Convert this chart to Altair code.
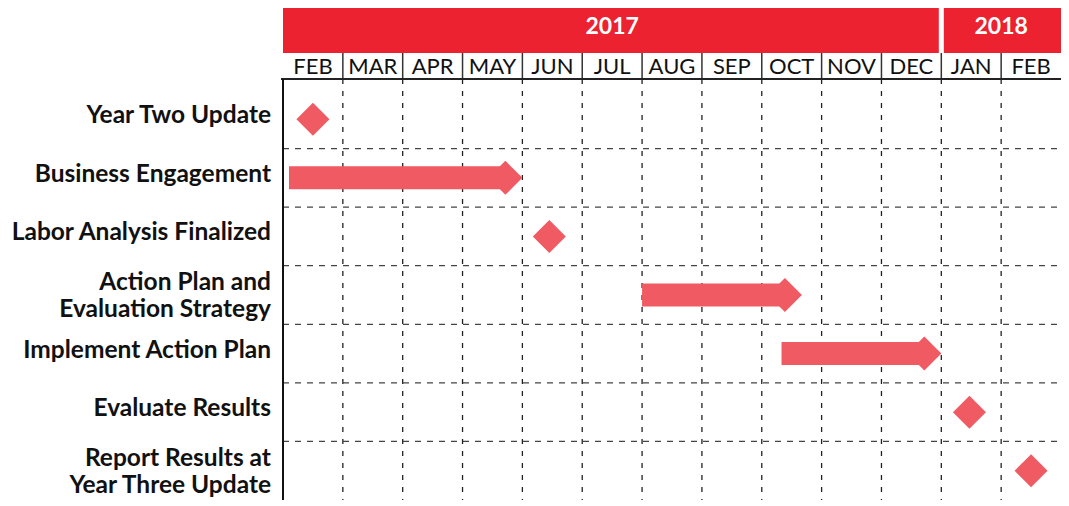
import altair as alt
import pandas as pd

# ---- data ----
months = ["FEB", "MAR", "APR", "MAY", "JUN", "JUL", "AUG", "SEP", "OCT", "NOV", "DEC", "JAN", "FEB"]
years = ["2017", "2018"]
year_start = [0, 11]   # month index where the year band starts
year_end = [11, 13]    # month index where the year band ends

tasks = [
    "Year Two Update",
    "Business Engagement",
    "Labor Analysis Finalized",
    "Action Plan and\nEvaluation Strategy",
    "Implement Action Plan",
    "Evaluate Results",
    "Report Results at\nYear Three Update",
]
kinds = ["milestone", "task", "milestone", "task", "task", "milestone", "milestone"]
starts = [None, 0.1, None, 6.0, 8.33, None, None]   # in months from start of Feb 2017
ends = [0.5, 4.0, 4.45, 8.67, 11.0, 11.47, 12.5]

HEADER_RED = "#EC2230"
MARK_RED = "#F05A62"
FONT = "Lato"
W, H = 778, 492
N_M = len(months)
N_R = len(tasks)

xs = alt.Scale(domain=[0, N_M], nice=False, zero=False)
ys = alt.Scale(domain=[0, N_R], range=[82, H], nice=False, zero=False)

month_df = pd.DataFrame({"m": months, "i": list(range(N_M))})
month_df["c"] = month_df["i"] + 0.5
bound_df = pd.DataFrame({"b": list(range(1, N_M))})
year_df = pd.DataFrame({"year": years, "s": year_start, "e": year_end})
task_df = pd.DataFrame({"task": tasks, "kind": kinds, "start": starts, "end": ends})
task_df["row"] = list(range(N_R))
task_df["yc"] = task_df["row"] + 0.5
rowb_df = pd.DataFrame({"r": list(range(1, N_R))})
one = pd.DataFrame({"k": [0]})

# year bands
year_band = alt.Chart(year_df).mark_rect(color=HEADER_RED).encode(
    x=alt.X("s:Q", scale=xs, axis=None), x2="e:Q",
    y=alt.value(0), y2=alt.value(45),
)
year_gap = alt.Chart(year_df).transform_filter("datum.s > 0").mark_rule(
    color="white", strokeWidth=5
).encode(x=alt.X("s:Q", scale=xs, axis=None), y=alt.value(0), y2=alt.value(45))
year_text = alt.Chart(year_df).transform_calculate(
    mid="(datum.s + datum.e) / 2"
).mark_text(color="white", font=FONT, fontWeight="bold", fontSize=23, baseline="middle").encode(
    x=alt.X("mid:Q", scale=xs, axis=None), y=alt.value(19), text="year:N"
)

# month row
month_sep = alt.Chart(bound_df).mark_rule(color="#333333", strokeWidth=1.5).encode(
    x=alt.X("b:Q", scale=xs, axis=None), y=alt.value(45), y2=alt.value(71)
)
month_text = alt.Chart(month_df).mark_text(
    font=FONT, fontSize=22, color="#111111", baseline="middle"
).encode(x=alt.X("c:Q", scale=xs, axis=None), y=alt.value(59), text="m:N")

header_line = alt.Chart(one).mark_rule(color="#222222", strokeWidth=2).encode(
    x=alt.value(-2), x2=alt.value(W), y=alt.value(71)
)
left_line = alt.Chart(one).mark_rule(color="#111111", strokeWidth=2).encode(
    x=alt.value(0), y=alt.value(71), y2=alt.value(H)
)

# grid
vgrid = alt.Chart(bound_df).mark_rule(color="#222222", strokeWidth=1.3, strokeDash=[5, 7]).encode(
    x=alt.X("b:Q", scale=xs, axis=None), y=alt.value(71), y2=alt.value(H)
)
hgrid = alt.Chart(rowb_df).mark_rule(color="#444444", strokeWidth=1.3, strokeDash=[6, 6]).encode(
    y=alt.Y("r:Q", scale=ys, axis=None), x=alt.value(0), x2=alt.value(W)
)

# tasks
bars = alt.Chart(task_df).transform_filter("datum.kind == 'task'").mark_rect(
    color=MARK_RED, yOffset=-11.5, y2Offset=11.5, x2Offset=-17
).encode(
    x=alt.X("start:Q", scale=xs, axis=None), x2="end:Q",
    y=alt.Y("yc:Q", scale=ys, axis=None), y2="yc:Q",
)
heads = alt.Chart(task_df).transform_filter("datum.kind == 'task'").mark_point(
    shape="diamond", filled=True, opacity=1, color=MARK_RED, size=1156, xOffset=-17, strokeWidth=0
).encode(x=alt.X("end:Q", scale=xs, axis=None), y=alt.Y("yc:Q", scale=ys, axis=None))
miles = alt.Chart(task_df).transform_filter("datum.kind == 'milestone'").mark_point(
    shape="diamond", filled=True, opacity=1, color=MARK_RED, size=1090, strokeWidth=0
).encode(x=alt.X("end:Q", scale=xs, axis=None), y=alt.Y("yc:Q", scale=ys, axis=None))

LABEL_STYLE = dict(font=FONT, fontWeight="bold", fontSize=24.5, color="#111111", align="right",
                   baseline="middle", lineBreak="\n", lineHeight=27)
labels_single = alt.Chart(task_df).transform_filter(
    "indexof(datum.task, '\\n') < 0"
).mark_text(dy=-3, **LABEL_STYLE).encode(
    x=alt.value(-12), y=alt.Y("yc:Q", scale=ys, axis=None), text="task:N")
labels_multi = alt.Chart(task_df).transform_filter(
    "indexof(datum.task, '\\n') >= 0"
).mark_text(dy=-12, **LABEL_STYLE).encode(
    x=alt.value(-12), y=alt.Y("yc:Q", scale=ys, axis=None), text="task:N")

chart = alt.layer(
    year_band, year_gap, year_text, month_sep, month_text,
    vgrid, hgrid, header_line, left_line,
    bars, heads, miles, labels_single, labels_multi,
).properties(
    width=W, height=H,
    padding={"left": 275, "top": 0, "right": 0, "bottom": 0},
    autosize=alt.AutoSizeParams(type="none"),
).configure_view(strokeWidth=0)

chart.save("out.html", embed_options={"renderer": "svg", "actions": False})
